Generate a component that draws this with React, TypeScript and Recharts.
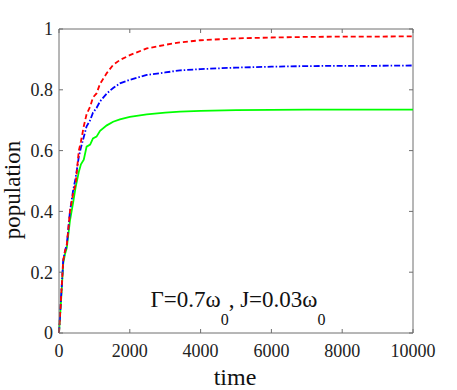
import { LineChart, Line, XAxis, YAxis, ReferenceLine, Customized } from 'recharts'

// time samples shared by all three curves
const time = [
  0, 60, 120, 170, 220, 310, 400, 470, 560, 620, 700, 780, 880, 960, 1060, 1160, 1350, 1530,
  1720, 2000, 2480, 3000, 3420, 4000, 5000, 6000, 7000, 8000, 9000, 10000,
]

// red dashed
const popRed = [
  0, 0.12, 0.24, 0.27, 0.29, 0.4, 0.46, 0.49, 0.6, 0.63, 0.68, 0.72, 0.745, 0.775, 0.788, 0.82,
  0.855, 0.882, 0.898, 0.914, 0.936, 0.948, 0.956, 0.963, 0.969, 0.972, 0.974, 0.975, 0.975, 0.976,
]

// blue dash-dot
const popBlue = [
  0, 0.12, 0.24, 0.27, 0.29, 0.4, 0.47, 0.51, 0.58, 0.61, 0.645, 0.68, 0.7, 0.725, 0.74, 0.762,
  0.788, 0.806, 0.821, 0.833, 0.849, 0.857, 0.864, 0.868, 0.873, 0.876, 0.878, 0.879, 0.879, 0.88,
]

// green solid
const popGreen = [
  0, 0.11, 0.23, 0.26, 0.28, 0.37, 0.43, 0.48, 0.53, 0.555, 0.57, 0.613, 0.62, 0.64, 0.646, 0.665,
  0.683, 0.695, 0.703, 0.711, 0.719, 0.725, 0.728, 0.731, 0.733, 0.734, 0.735, 0.735, 0.735, 0.735,
]

const xTicks = [0, 2000, 4000, 6000, 8000, 10000]
const yTicks = [0, 0.2, 0.4, 0.6, 0.8, 1]

const data = time.map((t, i) => ({
  t,
  red: popRed[i],
  blue: popBlue[i],
  green: popGreen[i],
}))

const W = 457
const H = 390
const PLOT_LEFT = 59
const PLOT_RIGHT = 413
const PLOT_TOP = 29
const PLOT_BOTTOM = 333
const AXIS = '#6e6e6e'
const FONT = "'Liberation Serif', 'Times New Roman', serif"
const TICK = 4

const XTick = (props: any) => {
  const { x, payload } = props
  return (
    <g>
      <line x1={x} x2={x} y1={PLOT_BOTTOM} y2={PLOT_BOTTOM - TICK} stroke={AXIS} />
      <line x1={x} x2={x} y1={PLOT_TOP} y2={PLOT_TOP + TICK} stroke={AXIS} />
      <text x={x} y={PLOT_BOTTOM + 24} textAnchor="middle" style={{ fontFamily: FONT, fontSize: 18 }} fill="#222">
        {payload.value}
      </text>
    </g>
  )
}

const YTick = (props: any) => {
  const { y, payload } = props
  return (
    <g>
      <line x1={PLOT_LEFT} x2={PLOT_LEFT + TICK} y1={y} y2={y} stroke={AXIS} />
      <line x1={PLOT_RIGHT} x2={PLOT_RIGHT - TICK} y1={y} y2={y} stroke={AXIS} />
      <text x={PLOT_LEFT - 6} y={y} dy="0.35em" textAnchor="end" style={{ fontFamily: FONT, fontSize: 18 }} fill="#222">
        {payload.value}
      </text>
    </g>
  )
}

const Labels = () => (
  <g style={{ fontFamily: FONT }} fill="#111">
    <text x={235} y={385} textAnchor="middle" style={{ fontSize: 24 }}>
      time
    </text>
    <text x={20} y={190} textAnchor="middle" style={{ fontSize: 23 }} transform="rotate(-90 20 190)">
      population
    </text>
    <text x={238} y={307} textAnchor="middle" style={{ fontSize: 23 }}>
      Γ=0.7ω
      <tspan style={{ fontSize: 16 }} dy={18}>0</tspan>
      <tspan dy={-18}>, J=0.03ω</tspan>
      <tspan style={{ fontSize: 16 }} dy={18}>0</tspan>
    </text>
  </g>
)

export default function App() {
  return (
    <div style={{ position: 'absolute', left: 0, top: 0, background: '#fff' }}>
      <LineChart width={W} height={H} data={data} margin={{ top: PLOT_TOP, right: W - PLOT_RIGHT, bottom: 0, left: 0 }}>
        <XAxis
          dataKey="t"
          type="number"
          domain={[0, 10000]}
          ticks={xTicks}
          height={H - PLOT_BOTTOM}
          stroke={AXIS}
          tickLine={false}
          tick={<XTick />}
          interval={0}
        />
        <YAxis
          type="number"
          domain={[0, 1]}
          ticks={yTicks}
          width={PLOT_LEFT}
          stroke={AXIS}
          tickLine={false}
          tick={<YTick />}
          interval={0}
        />
        <ReferenceLine x={10000} stroke={AXIS} />
        <ReferenceLine y={1} stroke={AXIS} />
        <Line type="linear" dataKey="green" stroke="#00ff00" strokeWidth={1.8} dot={false} isAnimationActive={false} />
        <Line
          type="linear"
          dataKey="blue"
          stroke="#0000ff"
          strokeWidth={1.8}
          strokeDasharray="6 2 1.5 2"
          dot={false}
          isAnimationActive={false}
        />
        <Line
          type="linear"
          dataKey="red"
          stroke="#ff0000"
          strokeWidth={1.8}
          strokeDasharray="5 3"
          dot={false}
          isAnimationActive={false}
        />
        <Customized component={<Labels />} />
      </LineChart>
    </div>
  )
}
